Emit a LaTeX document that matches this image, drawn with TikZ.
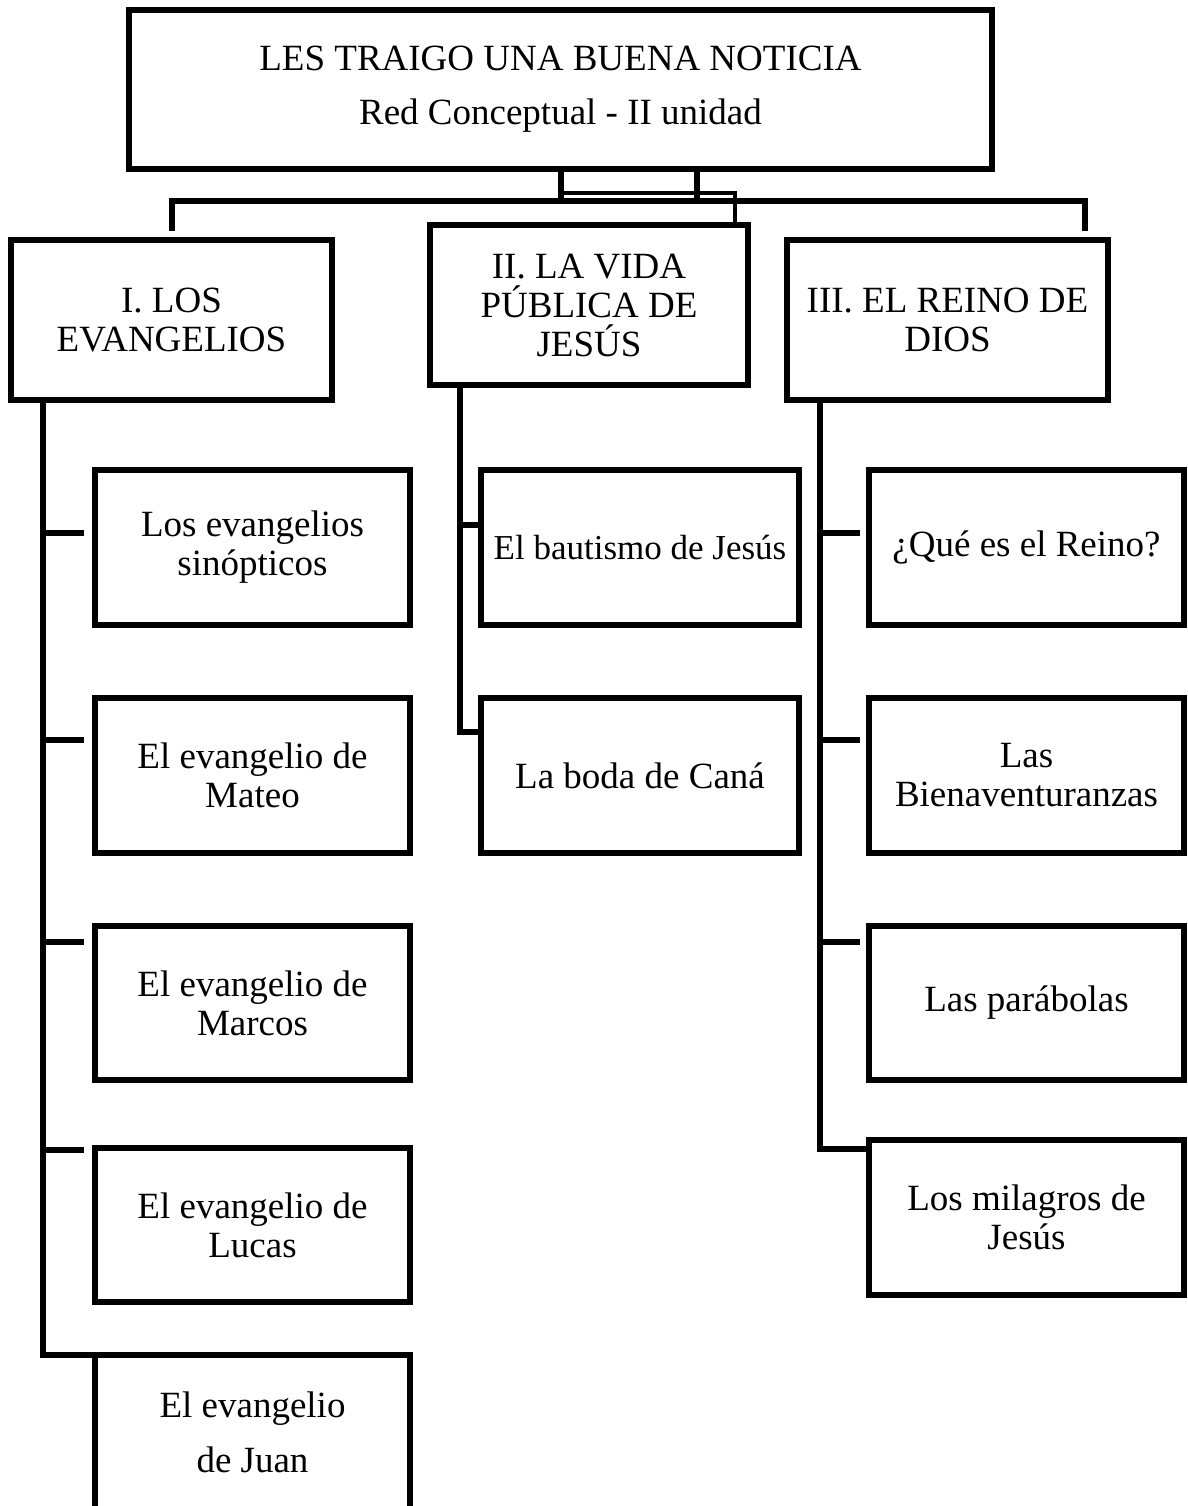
\documentclass[tikz,border=0pt]{standalone}
\usepackage{fontspec}
\setmainfont{Liberation Serif}
\begin{document}
\begin{tikzpicture}[x=1pt,y=-1pt,
  box/.style={draw, line width=6pt, inner sep=0pt, align=center, font=\fontsize{37}{39}\selectfont},
  wire/.style={line width=6pt},
  thinwire/.style={line width=4.5pt}]
\useasboundingbox (0,0) rectangle (1187,1506);
\fill[white] (0,0) rectangle (1187,1506);
\clip (0,0) rectangle (1187,1506);

% top
\node[box, minimum width=863pt, minimum height=159pt, font=\fontsize{37}{54}\selectfont] (top) at (560.5,89.5) {LES TRAIGO UNA BUENA NOTICIA\\Red Conceptual - II unidad};

% level 1
\node[box, minimum width=321pt, minimum height=160pt] (A) at (171.5,320) {I. LOS\\EVANGELIOS};
\node[box, minimum width=318pt, minimum height=160pt] (B) at (589,305) {II. LA VIDA\\PÚBLICA DE\\JESÚS};
\node[box, minimum width=321pt, minimum height=160pt] (C) at (947.5,320) {III. EL REINO DE\\DIOS};

% left column
\node[box, minimum width=315pt, minimum height=155pt] (L1) at (252.5,547.5) {Los evangelios\\sinópticos};
\node[box, minimum width=315pt, minimum height=155pt] (L2) at (252.5,775.5) {El evangelio de\\Mateo};
\node[box, minimum width=315pt, minimum height=154pt] (L3) at (252.5,1003) {El evangelio de\\Marcos};
\node[box, minimum width=315pt, minimum height=154pt] (L4) at (252.5,1225) {El evangelio de\\Lucas};
\node[box, minimum width=315pt, minimum height=154pt, font=\fontsize{37}{55}\selectfont] (L5) at (252.5,1432) {El evangelio\\de Juan};

% middle column
\node[box, minimum width=318pt, minimum height=155pt, font=\fontsize{35}{39}\selectfont] (M1) at (640,547.5) {El bautismo de Jesús};
\node[box, minimum width=318pt, minimum height=155pt] (M2) at (640,775.5) {La boda de Caná};

% right column
\node[box, minimum width=315pt, minimum height=155pt] (R1) at (1026.5,547.5) {¿Qué es el Reino?};
\node[box, minimum width=315pt, minimum height=155pt] (R2) at (1026.5,775.5) {Las\\Bienaventuranzas};
\node[box, minimum width=315pt, minimum height=154pt] (R3) at (1026.5,1003) {Las parábolas};
\node[box, minimum width=315pt, minimum height=155pt] (R4) at (1026.5,1217.5) {Los milagros de\\Jesús};

% junction coordinates
\coordinate (j1) at (561,201);
\coordinate (j2) at (697,201);
\coordinate (hA) at (172,201);
\coordinate (hC) at (1085,201);
\coordinate (s1) at (561,193);
\coordinate (s2) at (735,193);
\coordinate (eA) at (172,231);
\coordinate (eC) at (1085,231);

% top connectors
\draw[wire] (top.south -| j1) -- (j1);
\draw[wire] (top.south -| j2) -- (j2);
\draw[wire] (eA) -- (hA) -- (hC) -- (eC);
\draw[thinwire] (s1) -- (s2) -- (B.north -| s2);

% left trunk
\coordinate (tL) at (43,400);
\coordinate (cL) at (43,1355);
\coordinate (bL1) at (43,533);
\coordinate (bL2) at (43,740);
\coordinate (bL3) at (43,942);
\coordinate (bL4) at (43,1150);
\draw[wire] (A.south -| tL) -- (cL) -- (L5.west |- cL);
\draw[wire, shorten >=8pt] (bL1) -- (L1.west |- bL1);
\draw[wire, shorten >=8pt] (bL2) -- (L2.west |- bL2);
\draw[wire, shorten >=8pt] (bL3) -- (L3.west |- bL3);
\draw[wire, shorten >=8pt] (bL4) -- (L4.west |- bL4);

% middle trunk
\coordinate (tM) at (460,385);
\coordinate (cM) at (460,732);
\coordinate (bM1) at (460,525);
\draw[wire] (B.south -| tM) -- (cM) -- (M2.west |- cM);
\draw[wire] (bM1) -- (M1.west |- bM1);

% right trunk
\coordinate (tR) at (820,400);
\coordinate (cR) at (820,1149);
\coordinate (bR1) at (820,533);
\coordinate (bR2) at (820,740);
\coordinate (bR3) at (820,942);
\draw[wire] (C.south -| tR) -- (cR) -- (R4.west |- cR);
\draw[wire, shorten >=6pt] (bR1) -- (R1.west |- bR1);
\draw[wire, shorten >=6pt] (bR2) -- (R2.west |- bR2);
\draw[wire, shorten >=6pt] (bR3) -- (R3.west |- bR3);
\end{tikzpicture}
\end{document}
